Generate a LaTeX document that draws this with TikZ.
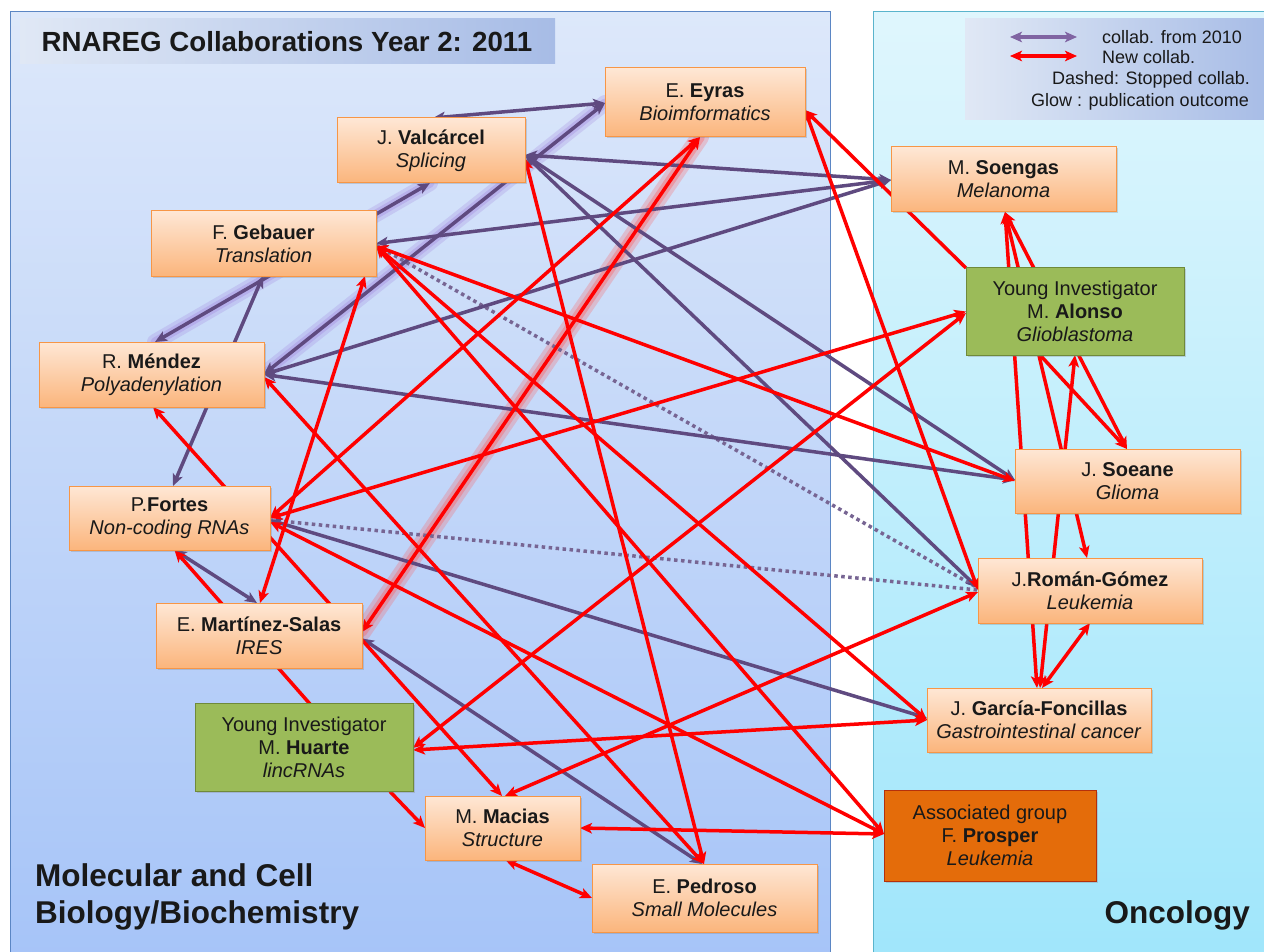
\documentclass[tikz,border=0pt]{standalone}
\usepackage{fontspec}
\setmainfont{Liberation Sans}
\usetikzlibrary{arrows.meta,shadows}
\pgfdeclarelayer{bg}
\pgfdeclarelayer{edges}
\pgfsetlayers{bg,edges,main}
\definecolor{purp}{HTML}{5F4A80}
\definecolor{legpurp}{HTML}{8064A2}
\definecolor{nodetop}{HTML}{FEE7D5}
\definecolor{nodebot}{HTML}{FBB57C}
\definecolor{nodeline}{HTML}{F79646}
\definecolor{grn}{HTML}{9BBB59}
\definecolor{grnline}{HTML}{6F8A3A}
\definecolor{orng}{HTML}{E46C0A}
\definecolor{orngline}{HTML}{B5300B}
\definecolor{lefttop}{HTML}{DDE8FA}
\definecolor{leftbot}{HTML}{A6C4F8}
\definecolor{leftline}{HTML}{5B86C4}
\definecolor{righttop}{HTML}{DFF6FD}
\definecolor{rightbot}{HTML}{A0E6FB}
\definecolor{rightline}{HTML}{5AB4CC}
\definecolor{titlel}{HTML}{E0E8F5}
\definecolor{titler}{HTML}{A7BCE6}
\definecolor{pglowc}{HTML}{A48BE0}
\definecolor{rglowc}{HTML}{FF5A5A}
\newcommand\nodefont{\fontsize{20}{23}\selectfont}
\tikzset{
  x=1pt, y=-1pt,
  >={Stealth[length=12pt,width=10.5pt,inset=3pt]},
  bx/.style n args={2}{draw=nodeline, line width=1pt, top color=nodetop, bottom color=nodebot,
     inner sep=0pt, align=center, font=\nodefont, text=black!90,
     minimum width=#1pt, minimum height=#2pt,
     drop shadow={shadow xshift=1.5pt,shadow yshift=-1.5pt,opacity=.3}},
  gbx/.style n args={2}{bx={#1}{#2}, draw=grnline, fill=grn, top color=grn, bottom color=grn},
  obx/.style n args={2}{bx={#1}{#2}, draw=orngline, top color=orng, bottom color=orng},
  pl/.style={draw=purp, line width=3.5pt, <->},
  rl/.style={draw=red, line width=3.5pt, <->},
  dl/.style={draw=purp!85, line width=3.5pt, dash pattern=on 3.5pt off 3.5pt},
  pglow/.style={draw=pglowc, line width=16pt, opacity=.28, line cap=round},
  pglowb/.style={draw=pglowc, line width=9pt, opacity=.38, line cap=round},
  rglow/.style={draw=rglowc, line width=18pt, opacity=.26, line cap=round},
  rglowb/.style={draw=rglowc, line width=10pt, opacity=.36, line cap=round},
  legtext/.style={font=\fontsize{18}{21}\selectfont, inner sep=0pt, text=black!90},
}
\begin{document}
\begin{tikzpicture}
\useasboundingbox (0,0) rectangle (1264,952);
\begin{pgfonlayer}{bg}
  \fill[white] (0,0) rectangle (1264,952);
  \shade[top color=lefttop, bottom color=leftbot] (10,12) rectangle (830,960);
  \draw[leftline, line width=1pt] (10,960) -- (10,12) -- (830,12) -- (830,960);
  \shade[top color=righttop, bottom color=rightbot] (873,12) rectangle (1270,960);
  \draw[rightline, line width=1pt] (873,960) -- (873,12) -- (1270,12);
  \shade[left color=titlel, right color=titler] (20,19) rectangle (555,64);
  \shade[left color=titlel, right color=titler] (965,19) rectangle (1270,120);
\end{pgfonlayer}

% title and labels
\node[font=\fontsize{27.7}{30}\selectfont\bfseries, text=black!90, inner sep=0pt] (title) at (287,42) {RNAREG Collaborations Year 2: 2011};
\node[font=\fontsize{31.5}{37}\selectfont\bfseries, align=left, anchor=west, inner sep=0pt, text=black!90] (mol) at (35,897) {Molecular and Cell\\Biology/Biochemistry};
\node[font=\fontsize{31.5}{37}\selectfont\bfseries, anchor=east, inner sep=0pt, text=black!90] (onc) at (1250,915) {Oncology};

% legend
\coordinate (lpa) at (1010,37);
\coordinate (lpb) at (1077,37);
\coordinate (lra) at (1010,56);
\coordinate (lrb) at (1077,56);
\draw[pl, draw=legpurp] (lpa) -- (lpb);
\draw[rl] (lra) -- (lrb);
\node[legtext, anchor=west] (lt1) at (1102,37) {collab. from 2010};
\node[legtext, anchor=west] (lt2) at (1102,57) {New collab.};
\node[legtext, anchor=east] (lt3) at (1250,80) {Dashed: Stopped collab.};
\node[legtext, anchor=east] (lt4) at (1249,102) {Glow : publication outcome};

% nodes
\node[bx={200}{69}] (eyr) at (705,102.5) {E. \textbf{Eyras}\\\textit{Bioimformatics}};
\node[bx={188}{65}] (val) at (431,150.5) {J. \textbf{Valcárcel}\\\textit{Splicing}};
\node[bx={225}{65}] (geb) at (263.5,243.5) {F. \textbf{Gebauer}\\\textit{Translation}};
\node[bx={225}{65}] (men) at (151.5,374.5) {R. \textbf{Méndez}\\\textit{Polyadenylation}};
\node[bx={201}{64}] (for) at (169.5,518) {P.\textbf{Fortes}\\\textit{Non-coding RNAs}};
\node[bx={206}{65}] (mar) at (259,635.5) {E. \textbf{Martínez-Salas}\\\textit{IRES}};
\node[gbx={218}{88}] (hua) at (304,747.5) {Young Investigator\\M. \textbf{Huarte}\\\textit{lincRNAs}};
\node[bx={155}{64}] (mac) at (502.5,828) {M. \textbf{Macias}\\\textit{Structure}};
\node[bx={225}{68}] (ped) at (704.5,898) {E. \textbf{Pedroso}\\\textit{Small Molecules}};
\node[bx={225}{65}] (sng) at (1003.5,179.5) {M. \textbf{Soengas}\\\textit{Melanoma}};
\node[gbx={218}{87}] (alo) at (1075,311.5) {Young Investigator\\M. \textbf{Alonso}\\\textit{Glioblastoma}};
\node[bx={225}{64}] (soa) at (1127.5,481) {J. \textbf{Soeane}\\\textit{Glioma}};
\node[bx={224}{65}] (rom) at (1090,590.5) {J.\textbf{Román-Gómez}\\\textit{Leukemia}};
\node[bx={224}{64}] (gar) at (1039,720) {J. \textbf{García-Foncillas}\\\textit{Gastrointestinal cancer}};
\node[obx={212}{91}] (pro) at (990,835.5) {Associated group\\F. \textbf{Prosper}\\\textit{Leukemia}};

\begin{pgfonlayer}{edges}
  % glows
  \draw[pglow] ([shift={(3.5,-32.5)}]men.center) -- ([shift={(-1,32.5)}]val.center);
  \draw[pglowb] ([shift={(3.5,-32.5)}]men.center) -- ([shift={(-1,32.5)}]val.center);
  \draw[pglow] ([shift={(112.5,-0.5)}]men.center) -- ([shift={(-100,0.5)}]eyr.center);
  \draw[pglowb] ([shift={(112.5,-0.5)}]men.center) -- ([shift={(-100,0.5)}]eyr.center);
  \draw[rglow] ([shift={(-5,34.5)}]eyr.center) -- ([shift={(103,-3.5)}]mar.center);
  \draw[rglowb] ([shift={(-5,34.5)}]eyr.center) -- ([shift={(103,-3.5)}]mar.center);
  % dotted (stopped)
  \draw[dl] ([shift={(112.5,1.5)}]geb.center) -- ([shift={(-112,-2.5)}]rom.center);
  \draw[dl] ([shift={(100.5,2)}]for.center) -- ([shift={(-112,-0.5)}]rom.center);
  % purple (from 2010)
  \draw[pl] ([shift={(2,-32.5)}]val.center) -- ([shift={(-100,0.5)}]eyr.center);
  \draw[pl] ([shift={(3.5,-32.5)}]men.center) -- ([shift={(-1,32.5)}]val.center);
  \draw[pl] ([shift={(112.5,-0.5)}]men.center) -- ([shift={(-100,0.5)}]eyr.center);
  \draw[pl] ([shift={(-0.5,32.5)}]geb.center) -- ([shift={(3.5,-32)}]for.center);
  \draw[pl] ([shift={(-112.5,0.5)}]sng.center) -- ([shift={(94,4.5)}]val.center);
  \draw[pl] ([shift={(-112.5,0.5)}]sng.center) -- ([shift={(112.5,0)}]geb.center);
  \draw[pl] ([shift={(-112.5,0.5)}]sng.center) -- ([shift={(112.5,0)}]men.center);
  \draw[pl] ([shift={(94,4.5)}]val.center) -- ([shift={(-112.5,-1)}]soa.center);
  \draw[pl] ([shift={(94,4.5)}]val.center) -- ([shift={(-112,-2.5)}]rom.center);
  \draw[pl] ([shift={(112.5,0)}]men.center) -- ([shift={(-112.5,-1)}]soa.center);
  \draw[pl] ([shift={(100.5,2)}]for.center) -- ([shift={(-112,-2)}]gar.center);
  \draw[pl] ([shift={(5,32)}]for.center) -- ([shift={(-2,-32.5)}]mar.center);
  \draw[pl] ([shift={(103,3)}]mar.center) -- ([shift={(-2.5,-34)}]ped.center);
  % red (new)
  \draw[rl] ([shift={(-5,34.5)}]eyr.center) -- ([shift={(103,-3.5)}]mar.center);
  \draw[rl] ([shift={(-5,34.5)}]eyr.center) -- ([shift={(100.5,0)}]for.center);
  \draw[rl, <-] ([shift={(100,7.5)}]eyr.center) -- ([shift={(-109,-43.5)}]alo.center);
  \draw[rl] ([shift={(100,7.5)}]eyr.center) -- ([shift={(-112,-0.5)}]rom.center);
  \draw[rl] ([shift={(94,7.5)}]val.center) -- ([shift={(-0.5,-34)}]ped.center);
  \draw[rl] ([shift={(112.5,2.5)}]geb.center) -- ([shift={(-112.5,0)}]soa.center);
  \draw[rl] ([shift={(112.5,2.5)}]geb.center) -- ([shift={(-112,0)}]gar.center);
  \draw[rl] ([shift={(112.5,2.5)}]geb.center) -- ([shift={(-106,-1.5)}]pro.center);
  \draw[rl] ([shift={(101.5,32.5)}]geb.center) -- ([shift={(1,-32.5)}]mar.center);
  \draw[rl] ([shift={(112.5,2.5)}]men.center) -- ([shift={(-0.5,-34)}]ped.center);
  \draw[rl] ([shift={(1.5,32.5)}]men.center) -- ([shift={(-0.5,-32)}]mac.center);
  \draw[rl, ->] ([shift={(6,-43.5)}]hua.center) -- ([shift={(5,32)}]for.center);
  \draw[rl] ([shift={(100.5,0)}]for.center) -- ([shift={(-109,0)}]alo.center);
  \draw[rl] ([shift={(-109,1.5)}]alo.center) -- ([shift={(109,0.5)}]hua.center);
  \draw[rl] ([shift={(109,2.5)}]hua.center) -- ([shift={(-112,0)}]gar.center);
  \draw[rl] ([shift={(100.5,4)}]for.center) -- ([shift={(-106,-1.5)}]pro.center);
  \draw[rl] ([shift={(-112,1.5)}]rom.center) -- ([shift={(2.5,-32)}]mac.center);
  \draw[rl, ->] ([shift={(86,44)}]hua.center) -- ([shift={(-77.5,0)}]mac.center);
  \draw[rl] ([shift={(3,32)}]mac.center) -- ([shift={(-112.5,0)}]ped.center);
  \draw[rl] ([shift={(77.5,0)}]mac.center) -- ([shift={(-106,-1.5)}]pro.center);
  \draw[rl] ([shift={(1.5,32.5)}]sng.center) -- ([shift={(-2,-32)}]gar.center);
  \draw[rl] ([shift={(1.5,32.5)}]sng.center) -- ([shift={(-3,-32.5)}]rom.center);
  \draw[rl] ([shift={(1.5,32.5)}]sng.center) -- ([shift={(-0.5,-32)}]soa.center);
  \draw[rl, ->] ([shift={(-35,43.5)}]alo.center) -- ([shift={(-0.5,-32)}]soa.center);
  \draw[rl] ([shift={(1,-32)}]gar.center) -- ([shift={(0,43.5)}]alo.center);
  \draw[rl] ([shift={(3,-32)}]gar.center) -- ([shift={(0,32.5)}]rom.center);
\end{pgfonlayer}
\end{tikzpicture}
\end{document}
